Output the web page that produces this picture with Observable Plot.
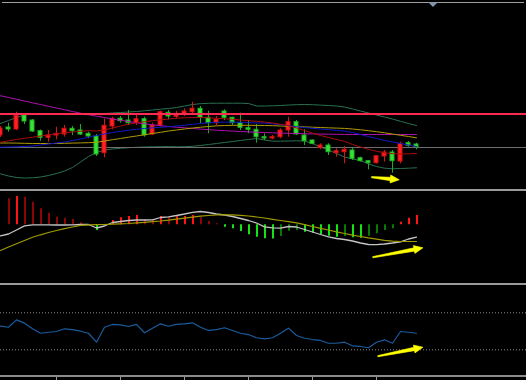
<!DOCTYPE html>
<html><head><meta charset="utf-8">
<script src="https://cdn.jsdelivr.net/npm/d3@7"></script>
<script src="https://cdn.jsdelivr.net/npm/@observablehq/plot@0.6"></script>
<style>
html,body{margin:0;padding:0;background:#000;}
#chart{position:relative;width:526px;height:380px;background:#000;overflow:hidden;}
#chart .pane{position:absolute;left:0;}
#chart .chrome{position:absolute;}
</style></head><body>
<div id="chart"></div>
<script>
// ---------- data (price panel: bar index 0..52) ----------
const open  = [55,63,61,75,70,59.3,52.7,55,56,61.7,60,56.7,54,37.3,64,71.7,70,67.3,71.3,56,65,77.7,73.7,75.7,78.3,81.7,72.7,67.3,79,72.7,67.3,62.3,60.7,53.3,52,53.3,60,68.3,55,50,42.7,45,37.3,38.3,40,32.3,29.3,27.3,34,38,29,47.3,46];
const high  = [64,67.3,78.3,76,71,60.5,60,63.3,65,64,66,58.3,56,71.7,73.3,74,80,75,73.3,67.3,79.3,80,79.3,81.7,88.3,84,79.3,74,80.7,73.3,77.3,70,66,56.7,55,61.7,73.3,70,60.7,50.7,46.7,46.7,41.7,44,42.7,33.3,30,35,40,40,48.3,49,47.3];
const low   = [53,58.3,60,66,58,49.3,48.3,50.7,53.3,55,55,51.7,34,32.7,60.7,67.3,65,65,53.3,55,63.3,70.7,71.7,74,76.7,66.7,56.7,65,70,65,60,56.7,47.3,50,50.7,51.7,53.3,55,45,45.7,40.7,35,33.3,26.7,30,28.3,20.7,26.7,28.3,17.3,26.7,43.3,40.7];
const close = [62,61,75,69,59,52.7,55,56.7,61.7,59.3,56,54,36,64.7,71.7,69.3,67.3,71.3,55,65,78.3,74,76.7,79,81.7,72.7,67.3,70.7,72.7,67.3,62.7,60.7,53.3,52,53.3,60,68.3,56,49.3,46.7,45,38.3,39.3,40.7,31.7,29.3,27.3,34.3,38,29.3,46.7,44.7,43.3];

const maLong   = [94.8,93,91.3,89.5,87.7,86,84.2,82.5,80.8,79,77.3,75.8,74.3,73,71.5,70.2,69,67.8,66.7,65.7,64.8,64,63.3,62.7,62,61.4,60.8,60.3,59.8,59.4,59,58.6,58.3,58,57.7,57.4,57.2,57,56.8,56.6,56.4,56.3,56.2,56.1,56,56,56,56,56,56,56,56,56];
const maBlue   = [43.3,43.5,43.7,44,44.5,45.5,46.5,47.5,48.5,50,51.5,53.2,55,56.5,58,59.2,60.4,61.2,62,62.7,63.2,63.8,64.5,65.3,66.2,67,67.7,68.2,68.4,68.4,68.2,67.9,67.6,67.3,66.7,65.8,64.8,63.8,63,62.2,61.5,60.8,60.2,59.4,58,56,54,52,50.2,48.5,47,45.5,44];
const maRed    = [48.3,49.7,51,52.2,53.3,54.5,55.7,56.8,57.7,58.5,59.2,59.8,59.5,60.5,62.5,64.5,66.2,67.7,68.8,69.8,70.7,71.5,72.2,72.7,73,73,72.7,72.2,71.7,71.2,70.5,69.8,69.2,68.5,67.5,66.2,64.7,62.5,60,57.5,55,53,51,49.2,46,43.5,41.2,39.2,37.7,36.8,36.5,36.7,37];
const maOlive  = [47.5,47.5,47.4,47.2,47,47,47,47,47.2,47.4,47.6,47.8,48.2,49.5,50.8,52,53.3,54.5,55.8,57,58.2,59.5,60.5,61.5,62.5,63.3,64,64.7,65,65.2,65.2,65.2,65.1,65,64.8,64.5,64.2,63.9,63.6,63.3,63,62.7,62.4,62.1,61.5,60.7,59.8,58.8,57.7,56.5,55.2,54,52.7];
const bandUpper= [67,70,73,75.5,76.7,76.7,76.5,76.5,76.5,76.5,76.5,76.5,76.8,77,77.5,78,78.5,79,79.7,80.5,81.3,82,83,84.5,86,86.8,87.2,87.3,87.3,87.3,87.3,87,84.5,84.5,84.7,85,85.5,85.8,86,85.8,85.4,85,84.5,83.5,81.5,79.5,77.5,75.5,73.5,71.5,69.2,67,65];
const bandLower= [16.7,14.5,13,12.5,12.7,13.5,15,17,19.5,23,28.5,34,38,40.5,41.5,42.2,42.8,43.2,43.5,43.7,43.8,43.9,43.7,43.8,44.2,45,46,47,48,49,50,51,52,50.5,49.3,49.3,49.5,49.7,49.5,47,43.5,40.5,37,33.5,31.5,30,26.5,24,22.3,21.7,22,22.3,22.7];
const redLevel = [76];
const grayLevel = [43];

// ---------- oscillator panel ----------
const histValues = [null,26,28.3,27.6,22.6,16,11.6,7.6,6.6,5.3,2,0.3,-5.7,0,4.3,7,8.3,9.3,5.3,5,8.3,7.6,8,8.3,9.3,7,3.3,1,-2.4,-4,-6.7,-10,-12.4,-14,-14.2,-11.7,-6.4,-5.7,-7.4,-8.4,-10,-11.4,-12.4,-11.7,-13,-13.4,-11.4,-9,-5.7,-4,2.6,6.6,9.3];
const mainLine   = [-11,-9.2,-5.2,-1,0,0,0,-0.2,-0.2,0,0.3,0.3,-3.2,-1.2,2.3,3.3,4.3,4.8,4.8,5,7.3,8,9.3,10.8,12.5,13.3,12.3,10.8,9.8,8.3,6.3,4.3,1.8,-2,-3,-3.4,-1.7,-2.2,-4.7,-7.2,-9.7,-12,-13.7,-14.7,-16.2,-18.2,-19.7,-19.9,-19.2,-18.2,-17,-14.2,-12.4];
const signalLine = [-25.7,-22.2,-19,-15.7,-12.5,-10,-7.7,-5.7,-3.9,-2.2,-0.5,0,0.1,0.3,0.6,1,1.3,1.9,2.5,3.2,3.8,4.6,5.6,6.7,7.7,8.6,9.3,9.9,10,10,9.5,8.8,7.8,6.8,5.5,4.3,3.1,1.9,0.1,-1.7,-3.5,-5.2,-7,-8.7,-10.3,-11.7,-13.1,-14.3,-15.5,-16.4,-16.7,-16.7,-16.7];

// ---------- RSI panel ----------
const rsi = [55.5,54.4,62.4,58.8,52.7,47.9,49.0,49.8,52.7,51.9,50.1,47.9,38.2,54.4,57.4,57.0,55.2,57.4,48.4,53.4,58.1,55.5,57.4,58.1,59.2,54.4,50.9,51.9,53.8,50.9,47.9,46.5,43.0,41.9,43.0,47.9,53.4,45.5,42.5,41.1,40.1,37.1,37.1,38.2,34.3,33.6,32.2,38.2,40.8,37.1,49.8,49.0,47.9];
const rsiLevels = [70, 30];
const timeTicks = [7, 15, 23, 31, 39, 47];

// ---------- annotation arrows (bar, value) ----------
const arrowPrice = {x1: 46.4, y1: 13.3, x2: 49.85, y2: 10.7};
const arrowOsc   = {x1: 46.56, y1: -32.4, x2: 52.81, y2: -23};
const arrowRsi   = {x1: 47.19, y1: 23.1, x2: 52.81, y2: 32.8};

// ---------- layout ----------
const W = 526;
const xDomain = [0, W / 8];
const bars = d3.range(close.length);
const candles = bars.map(i => ({bar: i, open: open[i], high: high[i], low: low[i], close: close[i]}));
const histRows = bars.map(i => ({bar: i, value: histValues[i], prev: histValues[i - 1]})).filter(d => d.value != null);

function histColor(d) {
  const prev = d.prev == null ? null : d.prev;
  if (d.value >= 0) return (prev != null && d.value > prev) ? "#ff1414" : "#8a0606";
  return (prev != null && d.value < prev) ? "#14e414" : "#067a06";
}

function arrowPolygon(a, yDomain, yRange) {
  const sx = d3.scaleLinear(xDomain, [0, W]);
  const sy = d3.scaleLinear(yDomain, yRange);
  const t = [sx(a.x1), sy(a.y1)], p = [sx(a.x2), sy(a.y2)];
  const dx = p[0] - t[0], dy = p[1] - t[1], len = Math.hypot(dx, dy);
  const u = [dx / len, dy / len], n = [-u[1], u[0]];
  const L = 9, H = 4, t0 = 0.6, t1 = 1.7;
  const b = [p[0] - u[0] * L, p[1] - u[1] * L];
  const pts = [
    [t[0] + n[0]*t0, t[1] + n[1]*t0],
    [b[0] + n[0]*t1, b[1] + n[1]*t1],
    [b[0] + n[0]*H,  b[1] + n[1]*H],
    p,
    [b[0] - n[0]*H,  b[1] - n[1]*H],
    [b[0] - n[0]*t1, b[1] - n[1]*t1],
    [t[0] - n[0]*t0, t[1] - n[1]*t0]
  ];
  return pts.map(q => ({x: sx.invert(q[0]), y: sy.invert(q[1])}));
}
function arrowMark(a, yDomain, yRange) {
  return Plot.line(arrowPolygon(a, yDomain, yRange), {x: "x", y: "y", fill: "#ffff00", stroke: "#ffff00", strokeWidth: 0.6, curve: "linear-closed"});
}

const baseStyle = {background: "transparent", color: "#9a9a9a", overflow: "visible", display: "block"};

// Panel 1: price
const y1Domain = [1, 190], y1Range = [189, 0];
const up = d => d.close >= d.open;
const p1 = Plot.plot({
  width: W, height: 189, marginTop: 0, marginRight: 0, marginBottom: 0, marginLeft: 0,
  style: baseStyle,
  x: {domain: xDomain, range: [0, W], axis: null},
  y: {domain: y1Domain, range: y1Range, axis: null},
  marks: [
    Plot.lineY(bandUpper, {stroke: "#2a7050", strokeWidth: 1}),
    Plot.lineY(bandLower, {stroke: "#2a7050", strokeWidth: 1}),
    Plot.ruleY(grayLevel, {stroke: "#6e6e6e", strokeWidth: 1}),
    Plot.ruleX(candles, {x: "bar", y1: "low", y2: "high", stroke: d => up(d) ? "#d01818" : "#22a822", strokeWidth: 1}),
    Plot.rect(candles, {x1: d => d.bar - 0.25, x2: d => d.bar + 0.25, y1: "open", y2: "close",
      fill: d => up(d) ? "#ff2020" : "#36e436", stroke: d => up(d) ? "#d41010" : "#22b422", strokeWidth: 1}),
    Plot.lineY(maLong, {stroke: "#b010b0", strokeWidth: 1}),
    Plot.lineY(maOlive, {stroke: "#b09a00", strokeWidth: 1}),
    Plot.lineY(maBlue, {stroke: "#1018c8", strokeWidth: 1}),
    Plot.lineY(maRed, {stroke: "#a80c0c", strokeWidth: 1}),
    Plot.ruleY(redLevel, {stroke: "#ff2a52", strokeWidth: 2, dy: -0.5}),
    arrowMark(arrowPrice, y1Domain, y1Range)
  ]
});

// Panel 2: oscillator
const y2Domain = [-58.7, 33.3], y2Range = [92, 0];
const p2 = Plot.plot({
  width: W, height: 92, marginTop: 0, marginRight: 0, marginBottom: 0, marginLeft: 0,
  style: baseStyle,
  x: {domain: xDomain, range: [0, W], axis: null},
  y: {domain: y2Domain, range: y2Range, axis: null},
  marks: [
    Plot.ruleX(histRows, {x: "bar", y1: () => 0, y2: "value", stroke: histColor, strokeWidth: 2, dx: 0.5}),
    Plot.lineY(mainLine, {stroke: "#c4c4c4", strokeWidth: 1.3}),
    Plot.lineY(signalLine, {stroke: "#a09a00", strokeWidth: 1.2}),
    arrowMark(arrowOsc, y2Domain, y2Range)
  ]
});

// Panel 3: RSI
const y3Domain = [0, 100], y3Range = [92.05, -0.45];
const p3 = Plot.plot({
  width: W, height: 95, marginTop: 0, marginRight: 0, marginBottom: 3, marginLeft: 0,
  style: baseStyle,
  x: {domain: xDomain, range: [0, W], axis: "bottom", ticks: timeTicks, tickSize: 4, tickFormat: () => "", label: null},
  y: {domain: y3Domain, range: y3Range, axis: null},
  marks: [
    Plot.ruleY(rsiLevels, {stroke: "#8c8c8c", strokeWidth: 1, strokeDasharray: "1,2"}),
    Plot.lineY(rsi, {stroke: "#1a5c9e", strokeWidth: 1.2}),
    arrowMark(arrowRsi, y3Domain, y3Range)
  ]
});

// ---------- assemble ----------
const chart = document.getElementById("chart");
function addPane(node, top) {
  const d = document.createElement("div");
  d.className = "pane";
  d.style.top = top + "px";
  d.appendChild(node);
  chart.appendChild(d);
}
addPane(p1, 0);
addPane(p2, 191);
addPane(p3, 285);
function chrome(css) {
  const d = document.createElement("div");
  d.className = "chrome";
  Object.assign(d.style, css);
  chart.appendChild(d);
}
chrome({left: "2px", top: "2px", width: "522px", height: "1px", background: "#a0a0a0"});
chrome({left: "0px", top: "189px", width: "526px", height: "2px", background: "#9a9a9a"});
chrome({left: "0px", top: "283px", width: "526px", height: "2px", background: "#9a9a9a"});
chrome({left: "0px", top: "375px", width: "526px", height: "2px", background: "#8c8c8c"});
chrome({left: "428px", top: "2px", width: "0px", height: "0px", borderLeft: "5px solid transparent", borderRight: "5px solid transparent", borderTop: "5px solid #8494ac"});
</script>
</body></html>
